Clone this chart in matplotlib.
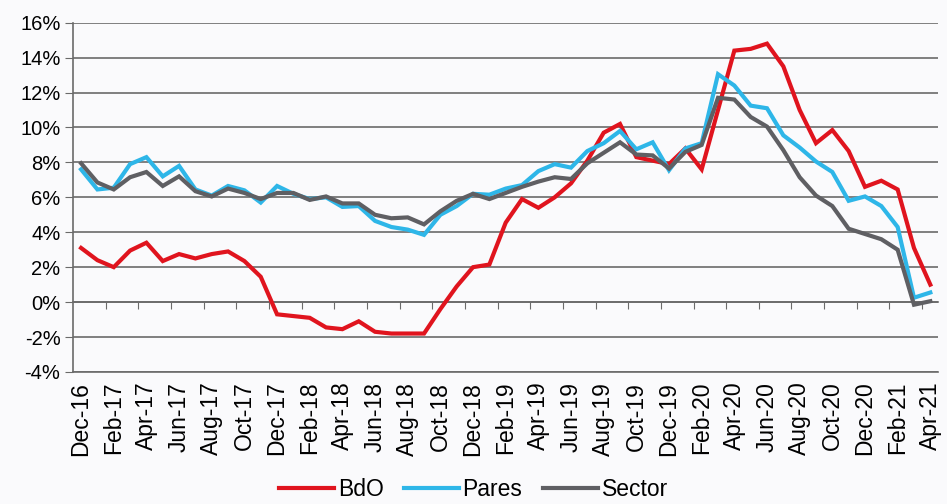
#line chart of BdO vs Pares vs Sector growth rates, monthly Dec-16 to Apr-21
import matplotlib.pyplot as plt
import numpy as np
import pandas as pd

months = pd.date_range('2016-12-01', periods=53, freq='MS').strftime('%b-%y').tolist()

bdo = [3.1, 2.4, 2.0, 2.95, 3.4, 2.35, 2.75, 2.5, 2.75, 2.9, 2.35, 1.45,
       -0.7, -0.8, -0.9, -1.45, -1.55, -1.1, -1.7, -1.8, -1.8, -1.8, -0.4, 0.9,
       2.0, 2.15, 4.55, 5.9, 5.4, 6.0, 6.8, 8.1, 9.7, 10.2, 8.3, 8.1,
       7.9, 8.8, 7.6, 11.0, 14.4, 14.5, 14.8, 13.5, 11.0, 9.1, 9.85, 8.65,
       6.6, 6.95, 6.45, 3.1, 1.0]
pares = [7.6, 6.45, 6.55, 7.9, 8.3, 7.2, 7.8, 6.45, 6.1, 6.65,
         6.4, 5.7, 6.65, 6.2, 5.9, 6.0, 5.45, 5.5, 4.65,
         4.3, 4.15, 3.85, 5.0, 5.5, 6.2, 6.15, 6.5, 6.7,
         7.5, 7.9, 7.7, 8.65, 9.1, 9.8, 8.75, 9.15, 7.55,
         8.8, 9.1, 13.05, 12.4, 11.25, 11.1, 9.55, 8.85,
         8.05, 7.45, 5.8, 6.05, 5.5, 4.3, 0.25, 0.55]
sector = [7.95, 6.85, 6.45, 7.15, 7.45, 6.65, 7.2, 6.35, 6.05, 6.5,
          6.25, 5.9, 6.25, 6.25, 5.85, 6.05, 5.65, 5.65, 5.0,
          4.8, 4.85, 4.45, 5.2, 5.8, 6.2, 5.9, 6.25, 6.6,
          6.9, 7.15, 7.05, 7.95, 8.55, 9.15, 8.45, 8.4, 7.65,
          8.6, 9.0, 11.7, 11.6, 10.6, 10.05, 8.7, 7.15,
          6.1, 5.5, 4.2, 3.9, 3.6, 3.0, -0.15, 0.05]

y_ticks = [-4, -2, 0, 2, 4, 6, 8, 10, 12, 14, 16]

plt.rcParams['font.family'] = ['Liberation Sans', 'DejaVu Sans']

fig = plt.figure(figsize=(9.47, 5.04), dpi=100, facecolor='#fafafc')
ax = fig.add_axes([0.077, 0.262, 0.914, 0.693])
ax.set_facecolor('#fafafc')

x = np.arange(len(months))
ax.plot(x, bdo, color='#e0141e', lw=3.0, label='BdO', solid_joinstyle='miter')
ax.plot(x, pares, color='#2eb6e8', lw=3.0, label='Pares', solid_joinstyle='miter')
ax.plot(x, sector, color='#5f5f63', lw=3.0, label='Sector', solid_joinstyle='miter')

ax.set_xlim(-0.5, len(months) - 0.5)
ax.set_ylim(-4, 16)
ax.set_yticks(y_ticks)
ax.set_yticklabels([f'{v}%' for v in y_ticks], fontsize=14.5)
ax.yaxis.grid(True, color='#6a6a6a', lw=1.2)
ax.set_axisbelow(True)
ax.tick_params(axis='y', length=6, color='#6a6a6a', pad=3)

# labels every two months at the bottom, no marks there
ax.set_xticks(x[::2])
ax.set_xticklabels(months[::2], rotation=90, fontsize=16.5)
ax.tick_params(axis='x', length=0, pad=7)

# category axis crosses at 0% with its own tick marks between categories
zero_axis = ax.secondary_xaxis(4 / 20)
zero_axis.set_xticks(np.arange(1.5, len(months) - 1, 2))
zero_axis.tick_params(axis='x', length=5, color='#6a6a6a', labelbottom=False, labeltop=False, direction='out')
zero_axis.spines['bottom'].set_color('#6a6a6a')
zero_axis.spines['bottom'].set_linewidth(1.2)

for side in ['top', 'right']:
    ax.spines[side].set_visible(False)
ax.spines['left'].set_color('#6a6a6a')
ax.spines['bottom'].set_color('#6a6a6a')
ax.spines['left'].set_linewidth(1.2)
ax.spines['bottom'].set_linewidth(1.2)

fig.legend(loc='lower center', bbox_to_anchor=(0.5, -0.035), ncol=3, frameon=False,
           fontsize=16.5, handlelength=2.4, handletextpad=0.15, columnspacing=0.9)

plt.savefig('out.png', dpi=100, facecolor=fig.get_facecolor())
